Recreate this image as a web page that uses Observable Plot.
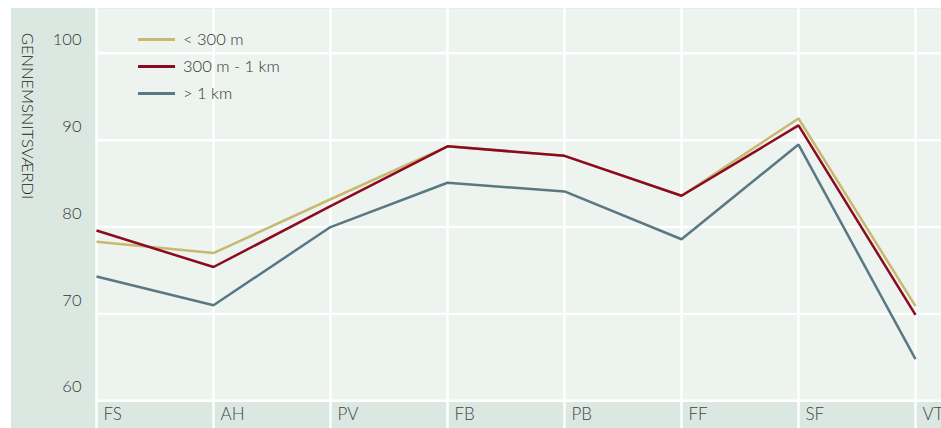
<!DOCTYPE html>
<html><head><meta charset="utf-8">
<script src="https://cdn.jsdelivr.net/npm/d3@7"></script>
<script src="https://cdn.jsdelivr.net/npm/@observablehq/plot@0.6"></script>
<style>
body{margin:0;background:#fff;}
#wrap{position:relative;width:941px;height:428px;font-family:Lato,"Open Sans",sans-serif;font-weight:300;color:#333;}
#chart svg{display:block;background:linear-gradient(#fff,#fff) top left/100% 8px no-repeat, linear-gradient(to right,#fff 11px,#dbe8e2 11px);}
.legend{position:absolute;left:138px;top:25.7px;}
.legend .row{display:flex;align-items:center;height:27px;font-size:16.5px;}
.legend .sw{width:37px;height:3px;margin-right:8px;}
</style></head>
<body>
<div id="wrap"><div id="chart"></div><div class="legend" id="legend"></div></div>
<script>
const cats = ["FS","AH","PV","FB","PB","FF","SF","VT"];
const seriesNames = ["< 300 m","300 m - 1 km","> 1 km"];
const near = [78.3, 77.0, 83.2, 89.3, 88.2, 83.6, 92.5, 70.9];
const mid  = [79.6, 75.4, 82.4, 89.3, 88.2, 83.6, 91.7, 69.9];
const far  = [74.3, 71.0, 80.0, 85.1, 84.1, 78.6, 89.5, 64.8];
const colors = ["#c8b96e","#8c0a20","#5a7882"];
const yTicks = [60,70,80,90,100];
const yTitle = "GENNEMSNITSVÆRDI";
const yMin = 56.81, yMax = 105.16;

const rows = [];
[near, mid, far].forEach((arr,i)=>arr.forEach((v,j)=>rows.push({series:seriesNames[i], cat:cats[j], value:v})));

const plot = Plot.plot({
  width:941, height:428,
  marginTop:8, marginBottom:0, marginLeft:95.5, marginRight:0,
  x:{type:"point", domain:cats, range:[95.5,914.5], padding:0},
  y:{domain:[yMin,yMax], range:[428,8]},
  color:{domain:seriesNames, range:colors},
  style:{fontFamily:"Lato, 'Open Sans', sans-serif", fontWeight:300, background:null},
  marks:[
    Plot.frame({fill:"#edf3ef", stroke:null}),
    Plot.rect([{lo:yMin, hi:60}], {y1:"lo", y2:"hi", fill:"#dbe8e2"}),
    Plot.ruleY(yTicks, {stroke:"#fff", strokeWidth:2.4}),
    Plot.ruleX(cats, {stroke:"#fff", strokeWidth:2.4}),
    Plot.line(rows, {x:"cat", y:"value", z:"series", stroke:"series", strokeWidth:2.5, strokeLinecap:"butt", strokeLinejoin:"miter"}),
    Plot.axisY(yTicks, {anchor:"left", tickSize:0, tickPadding:14.5, dy:-13.6, fontSize:16.5, fill:"#333", label:null}),
    Plot.axisX({anchor:"bottom", tickSize:0, tickPadding:0, dy:-14, dx:7, lineAnchor:"middle", textAnchor:"start", fontSize:17, fill:"#444", label:null}),
    Plot.text([yTitle], {frameAnchor:"top-left", rotate:90, dx:-68.5, dy:24.3, textAnchor:"start", lineAnchor:"middle", fontSize:16.5, fill:"#222"})
  ]
});
document.getElementById("chart").appendChild(plot);

const lg = document.getElementById("legend");
seriesNames.forEach((s,i)=>{
  const r = document.createElement("div"); r.className="row";
  const sw = document.createElement("div"); sw.className="sw"; sw.style.background=colors[i];
  const t = document.createElement("span"); t.textContent=s;
  r.appendChild(sw); r.appendChild(t); lg.appendChild(r);
});
</script>
</body></html>
